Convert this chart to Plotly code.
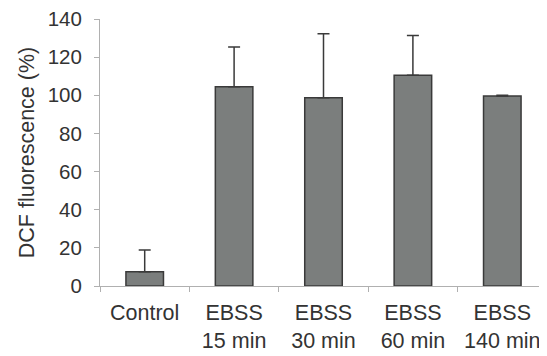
import plotly.graph_objects as go

categories = ["Control", "EBSS<br>15 min", "EBSS<br>30 min", "EBSS<br>60 min", "EBSS<br>140 min"]
means = [7.5, 104.5, 98.7, 110.5, 99.6]
errors_up = [11.4, 20.8, 33.6, 20.8, 0.4]
y_ticks = [0, 20, 40, 60, 80, 100, 120, 140]

fig = go.Figure(go.Bar(
    x=categories, y=means, width=0.42,
    marker=dict(color="#7b7e7d", line=dict(color="#3a3a3a", width=1.5)),
    error_y=dict(type="data", array=errors_up, arrayminus=[0]*len(means), symmetric=False,
                 color="#3a3a3a", thickness=1.5, width=6),
))

font = "Liberation Sans, Arial, sans-serif"
# page body has an 8px default margin, so the figure is sized to fit inside it
fig.update_layout(
    width=539, height=348,
    margin=dict(l=92, r=0, t=11, b=70),
    plot_bgcolor="white", paper_bgcolor="white",
    showlegend=False,
    font=dict(family=font, color="#333333"),
)
fig.update_xaxes(
    type="category", range=[-0.5, 4.5], automargin=False,
    showline=True, linecolor="#b0b0b0", linewidth=1,
    ticks="outside", tickson="boundaries", ticklen=5, tickcolor="#b0b0b0",
    tickfont=dict(size=21.5, family=font, color="#333333"),
    ticklabelstandoff=7, ticklabeloverflow="allow",
    showgrid=False, zeroline=False,
)
fig.update_yaxes(
    range=[0, 140], tickvals=y_ticks, automargin=False,
    showline=True, linecolor="#b0b0b0", linewidth=1,
    ticks="outside", ticklen=5, tickcolor="#b0b0b0",
    tickfont=dict(size=20.5, family=font, color="#333333"),
    ticklabelstandoff=8, ticklabeloverflow="allow",
    showgrid=False, zeroline=False,
    title=dict(text="DCF fluorescence (%)", font=dict(size=21.5, family=font, color="#333333"), standoff=7),
)

fig.write_html("out.html")
